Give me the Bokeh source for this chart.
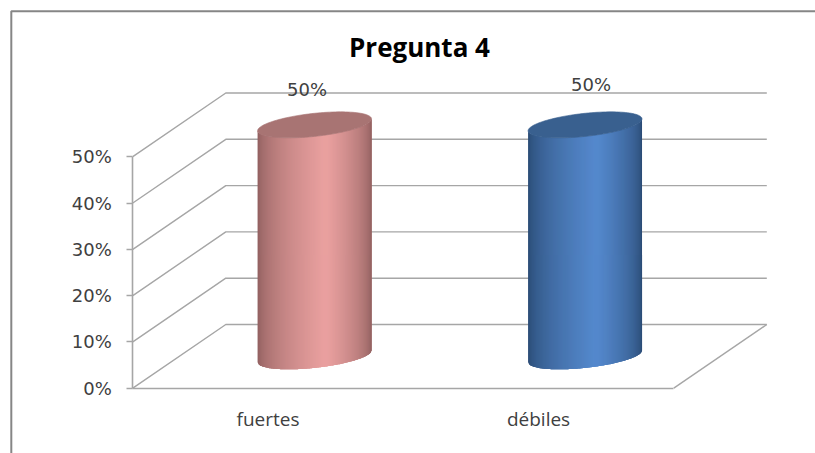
import numpy as np
from bokeh.embed import file_html
from bokeh.resources import INLINE
from bokeh.plotting import figure
from bokeh.models import Range1d, LinearAxis, FixedTicker, PrintfTickFormatter, Label
from bokeh.core.properties import value

title_text = "Pregunta 4"
categories = ["fuertes", "débiles"]
values = [50, 50]
y_ticks = [0, 10, 20, 30, 40, 50]
edge_colors = [(140, 92, 92), (40, 72, 112)]
light_colors = [(233, 160, 159), (84, 136, 204)]
top_colors = ["#A87473", "#39608F"]

PX_X = 270.5
PX_Y = 4.63
ORG_X = 132.3
ORG_Y = 387.7
WIDTH = 815
HEIGHT = 453
DEPTH_X = 93 / PX_X
DEPTH_Y = 63.7 / PX_Y
GRID = "#A6A6A6"
TXT = "#404040"


def dx_of(px):
    return (px - ORG_X) / PX_X


def dy_of(py):
    return (ORG_Y - py) / PX_Y


p = figure(width=WIDTH, height=HEIGHT, frame_width=WIDTH, frame_height=HEIGHT,
           min_border_left=0, min_border_right=0, min_border_top=0, min_border_bottom=0,
           x_range=Range1d(dx_of(0), dx_of(WIDTH)), y_range=Range1d(dy_of(HEIGHT), dy_of(0)),
           output_backend="svg", toolbar_location=None, x_axis_type=None, y_axis_type=None)
p.grid.visible = False
p.outline_line_color = None
p.background_fill_color = "white"
p.border_fill_color = "white"

# picture border: only its left and top sides fall inside the page
p.line([dx_of(10.8), dx_of(10.8), dx_of(WIDTH)], [dy_of(HEIGHT), dy_of(10.8), dy_of(10.8)],
       line_color="#868686", line_width=2)

p.add_layout(Label(x=dx_of(419), y=dy_of(46), text=title_text, text_align="center", text_baseline="middle",
                   text_font="Open Sans", text_font_size="26px", text_font_style="bold", text_color="#000000"))

xs, ys = [], []
for t in y_ticks:
    xs.append([0, DEPTH_X, 2 + DEPTH_X])
    ys.append([t, t + DEPTH_Y, t + DEPTH_Y])
p.multi_line(xs, ys, line_color=GRID, line_width=1.4)
p.line([2, 2 + DEPTH_X], [0, DEPTH_Y], line_color=GRID, line_width=1.4)

yax = LinearAxis(ticker=FixedTicker(ticks=y_ticks), formatter=PrintfTickFormatter(format="%d%%"),
                 fixed_location=0,
                 bounds=(0, max(y_ticks)), axis_line_color=GRID, axis_line_width=1.6,
                 major_tick_line_color=GRID, major_tick_line_width=1.6, major_tick_in=0, major_tick_out=6,
                 minor_tick_line_color=None, major_label_text_font="DejaVu Sans",
                 major_label_text_font_size="18px", major_label_text_color=TXT, major_label_standoff=15)
p.add_layout(yax, "left")

centers = [i + 0.5 for i in range(len(categories))]
xax = LinearAxis(ticker=FixedTicker(ticks=centers),
                 major_label_overrides={c: n for c, n in zip(centers, categories)},
                 fixed_location=0,
                 bounds=(0, 2), axis_line_color=GRID, axis_line_width=1.6,
                 major_tick_line_color=None, minor_tick_line_color=None,
                 major_label_text_font="Open Sans", major_label_text_font_size="19px",
                 major_label_text_color=TXT, major_label_standoff=12)
p.add_layout(xax, "below")

W = 50.7 / PX_X
DX = 26 / PX_X
DY = 13 / PX_Y
N = 114
t0 = np.arctan2(DX, W)
fine = np.linspace(t0 - np.pi, t0, 800)
half = np.hypot(W, DX)
for i, (c, v) in enumerate(zip(centers, values)):
    cx = c + DEPTH_X / 2
    cy0 = DEPTH_Y / 2
    fx = cx + W * np.cos(fine) + DX * np.sin(fine)
    fy = cy0 + DY * np.sin(fine)
    ex = np.linspace(fx[0], fx[-1], N + 1)
    ey = np.interp(ex, fx, fy)
    qx, qy, cols = [], [], []
    for k in range(N):
        j = min(k + 3, N)
        idx = list(range(k, j + 1))
        qx.append(list(ex[idx]) + list(ex[idx][::-1]))
        qy.append(list(ey[idx]) + list((ey[idx] + v)[::-1]))
        pos = (k + 0.5) / N
        f = pos / 0.6 if pos < 0.6 else (1 - pos) / 0.4
        f = min(1.0, f ** 0.55 * 1.02)
        rgb = [int(round(a + (b - a) * f)) for a, b in zip(edge_colors[i], light_colors[i])]
        cols.append("#%02x%02x%02x" % tuple(rgb))
    p.patches(qx, qy, fill_color=cols, line_color=None)
    a = np.linspace(0, 2 * np.pi, 121)
    p.patch(cx + W * np.cos(a) + DX * np.sin(a), cy0 + v + DY * np.sin(a),
            fill_color=top_colors[i], line_color=top_colors[i], line_width=0.6)

label_dx = [39, 52.5]
label_dy = [0, 4.5]
p.text([c + dx / PX_X for c, dx in zip(centers, label_dx)],
       [v + DEPTH_Y + dy / PX_Y + 4 / PX_Y for v, dy in zip(values, label_dy)],
       text=[f"{v}%" for v in values], text_align="center", text_baseline="middle",
       text_font=value("DejaVu Sans"), text_font_size="18px", text_color=TXT)

open("out.html", "w").write(file_html(p, INLINE))
